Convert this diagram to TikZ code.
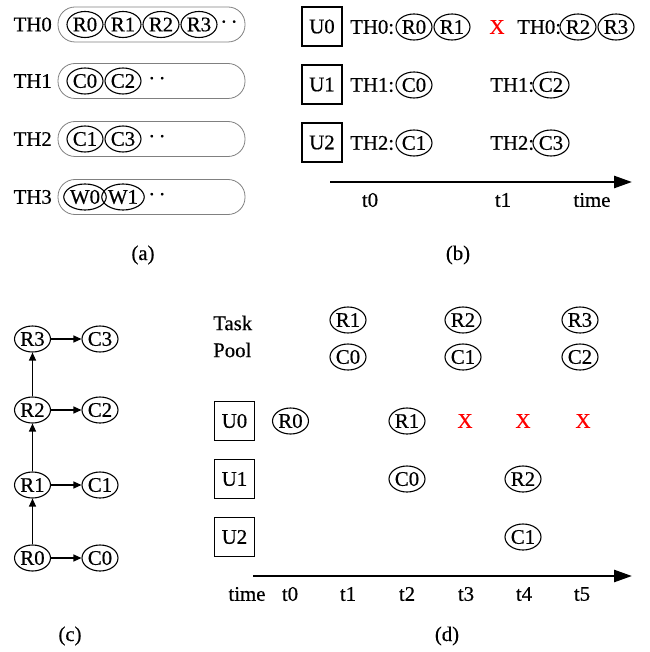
\documentclass[tikz,border=0pt]{standalone}
\usepackage{fontspec}
\setmainfont{Liberation Serif}[FakeBold=0.5]
\usetikzlibrary{shapes.geometric,arrows.meta}
\begin{document}
\begin{tikzpicture}[x=1pt,y=-1pt,
  every node/.style={font=\fontsize{20.8}{24}\selectfont, inner sep=0pt},
  tk/.style={ellipse, draw, line width=1.1pt, minimum width=36pt, minimum height=26pt, inner sep=0pt},
  ubox/.style={draw, line width=1.1pt, minimum width=40pt, minimum height=39pt},
  lane/.style={draw=gray, line width=0.8pt, rounded corners=17pt, minimum width=187pt, minimum height=35pt},
  redx/.style={text=red},
  tline/.style={line width=2.6pt, -{Triangle[length=18pt,width=12pt]}},
  dep/.style={line width=1.2pt, -{Triangle[length=8pt,width=7pt]}}]
\useasboundingbox (0,0) rectangle (649,652);
% ---------- (a)
\foreach \i/\y in {0/24.5,1/81,2/139,3/197}{
  \node[lane] (lane\i) at (151.5,\y) {};
  \node[anchor=east] (thl\i) at (52,\y) {TH\i};
}
\node[tk] (aR0) at (85,24.5) {R0};
\node[tk] (aR1) at (123,24.5) {R1};
\node[tk] (aR2) at (161,24.5) {R2};
\node[tk] (aR3) at (199,24.5) {R3};
\node (ad0) at (229,24.5) {·\,·};
\node[tk] (aC0) at (85,81) {C0};
\node[tk] (aC2) at (123,81) {C2};
\node (ad1) at (157,81) {·\,·};
\node[tk] (aC1) at (85,139) {C1};
\node[tk] (aC3) at (123,139) {C3};
\node (ad2) at (157,139) {·\,·};
\node[tk] (aW0) at (85,197) {W0};
\node[tk] (aW1) at (123,197) {W1};
\node (ad3) at (157,197) {·\,·};
\node (capa) at (143,255) {(a)};
% ---------- (b)
\node[ubox] (bU0) at (322,26.5) {U0};
\node[ubox] (bU1) at (322,84.5) {U1};
\node[ubox] (bU2) at (322,142.5) {U2};
\node[anchor=west] (bt00) at (350,27) {TH0:};
\node[tk] (bR0) at (414,27) {R0};
\node[tk] (bR1) at (452,27) {R1};
\node[redx] (bX) at (497,27) {X};
\node[anchor=west] (bt01) at (517,27) {TH0:};
\node[tk] (bR2) at (578,27) {R2};
\node[tk] (bR3) at (616,27) {R3};
\node[anchor=west] (bt10) at (350,85) {TH1:};
\node[tk] (bC0) at (414,85) {C0};
\node[anchor=west] (bt11) at (490,85) {TH1:};
\node[tk] (bC2) at (551,85) {C2};
\node[anchor=west] (bt20) at (350,143) {TH2:};
\node[tk] (bC1) at (414,143) {C1};
\node[anchor=west] (bt21) at (490,143) {TH2:};
\node[tk] (bC3) at (551,143) {C3};
\coordinate (bA) at (330,182);
\coordinate (bB) at (632,182);
\draw[tline] (bA) -- (bB);
\node (bl0) at (370,200) {t0};
\node (bl1) at (503,200) {t1};
\node (bl2) at (592,200) {time};
\node (capb) at (458,255) {(b)};
% ---------- (c)
\node[tk] (cR3) at (32.5,339) {R3};
\node[tk] (cC3) at (100,339) {C3};
\node[tk] (cR2) at (32.5,410) {R2};
\node[tk] (cC2) at (100,410) {C2};
\node[tk] (cR1) at (32.5,485) {R1};
\node[tk] (cC1) at (100,485) {C1};
\node[tk] (cR0) at (32.5,558) {R0};
\node[tk] (cC0) at (100,558) {C0};
\draw[dep] (cR0) -- (cR1);
\draw[dep] (cR1) -- (cR2);
\draw[dep] (cR2) -- (cR3);
\draw[dep] (cR0) -- (cC0);
\draw[dep] (cR1) -- (cC1);
\draw[dep] (cR2) -- (cC2);
\draw[dep] (cR3) -- (cC3);
\node (capc) at (70,636) {(c)};
% ---------- (d)
\node[anchor=west] (dtask) at (213,323) {Task};
\node[anchor=west] (dpool) at (213,350) {Pool};
\node[tk] (pR1) at (348,320) {R1};
\node[tk] (pC0) at (348,357) {C0};
\node[tk] (pR2) at (463,320) {R2};
\node[tk] (pC1) at (463,357) {C1};
\node[tk] (pR3) at (580,320) {R3};
\node[tk] (pC2) at (580,357) {C2};
\node[ubox] (dU0) at (234.5,421) {U0};
\node[ubox] (dU1) at (234.5,479) {U1};
\node[ubox] (dU2) at (234.5,537) {U2};
\node[tk] (dR0) at (290.5,421) {R0};
\node[tk] (dR1) at (407,421) {R1};
\node[redx] (dX3) at (465,421) {X};
\node[redx] (dX4) at (523,421) {X};
\node[redx] (dX5) at (583,421) {X};
\node[tk] (dC0) at (407,479) {C0};
\node[tk] (dR2) at (523,479) {R2};
\node[tk] (dC1) at (523,537) {C1};
\coordinate (dA) at (253,576);
\coordinate (dB) at (632,576);
\draw[tline] (dA) -- (dB);
\node (dltime) at (247,594) {time};
\node (dl0) at (290,594) {t0};
\node (dl1) at (348,594) {t1};
\node (dl2) at (407,594) {t2};
\node (dl3) at (466,594) {t3};
\node (dl4) at (524,594) {t4};
\node (dl5) at (582,594) {t5};
\node (capd) at (447,636) {(d)};
\end{tikzpicture}
\end{document}
